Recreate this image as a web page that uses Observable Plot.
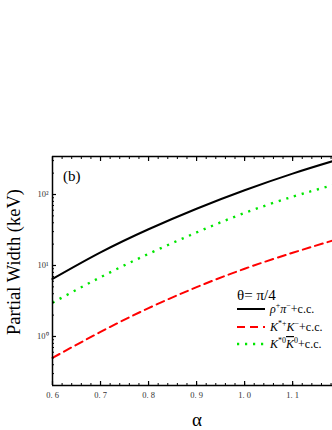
<!DOCTYPE html>
<html><head><meta charset="utf-8">
<script src="https://cdn.jsdelivr.net/npm/d3@7"></script>
<script src="https://cdn.jsdelivr.net/npm/@observablehq/plot@0.6"></script>
<style>
html,body{margin:0;padding:0;background:#fff;}
#chart svg{display:block;font-family:"Liberation Serif","DejaVu Serif",serif;}
</style></head>
<body><div id="chart"></div>
<script>
const alpha = [0.6, 0.7, 0.8, 0.9, 1.0, 1.1, 1.183];
const rhoPi = [6.46, 15.3, 32.4, 63.1, 114.8, 197, 294];
const kStarK = [0.50, 1.16, 2.51, 4.95, 9.0, 15.1, 22.4];
const kStar0K0 = [2.99, 6.84, 14.6, 29.2, 55, 93, 135];
const xMajor = [0.6, 0.7, 0.8, 0.9, 1.0, 1.1];
const yMajor = [1, 10, 100];
const yLabels = ["10⁰", "10¹", "10²"];

const xDom = [0.6, 1.183];
const yDom = [0.204, 343];
const xMinor = d3.range(30, 60).map(i => i / 50).filter(v => v <= xDom[1]);
const yMinor = [];
for (const d of [0.1, 1, 10, 100]) for (let k = 2; k <= 9; k++) { const v = d * k; if (v >= yDom[0] && v <= yDom[1]) yMinor.push(v); }

const toRows = (ys, s) => alpha.map((a, i) => ({a, v: ys[i], s}));
const curve = "natural";

const chart = Plot.plot({
  width: 332, height: 430,
  marginTop: 156, marginBottom: 45, marginLeft: 52, marginRight: 0,
  style: {fontFamily: "Liberation Serif, serif", background: "#fff", overflow: "visible"},
  x: {domain: xDom, label: null},
  y: {type: "log", domain: yDom, label: null},
  marks: [
    Plot.line(toRows(kStar0K0, "g"), {x: "a", y: "v", stroke: "#00e600", strokeWidth: 2.4, strokeDasharray: "2.2,5.8", strokeLinecap: "butt", curve}),
    Plot.line(toRows(kStarK, "r"), {x: "a", y: "v", stroke: "#ff0000", strokeWidth: 2, strokeDasharray: "8,5", curve}),
    Plot.line(toRows(rhoPi, "b"), {x: "a", y: "v", stroke: "#000", strokeWidth: 2, curve}),
    Plot.axisX({anchor: "bottom", ticks: xMinor, tickSize: -2, tickFormat: () => "", strokeWidth: 1}),
    Plot.axisX({anchor: "top", ticks: xMinor, tickSize: -2, tickFormat: () => "", strokeWidth: 1}),
    Plot.axisX({anchor: "bottom", ticks: xMajor, tickSize: -4, tickPadding: 10, tickFormat: d => d3.format(".1f")(d).replace(".", ". "), fontSize: 8.5, fill: "#333", strokeWidth: 1.2}),
    Plot.axisX({anchor: "top", ticks: xMajor, tickSize: -4, tickFormat: () => "", strokeWidth: 1.2}),
    Plot.axisY({anchor: "left", ticks: yMinor, tickSize: -2, tickFormat: () => "", strokeWidth: 1}),
    Plot.axisY({anchor: "left", ticks: yMajor, tickSize: -4, tickPadding: 8, tickFormat: d => yLabels[yMajor.indexOf(d)], fontSize: 8.5, fill: "#333", strokeWidth: 1.2}),
    Plot.ruleX([xDom[0]], {strokeWidth: 1.5}),
    Plot.ruleY([yDom[0]], {strokeWidth: 1.5}),
    Plot.ruleY([yDom[1]], {strokeWidth: 1.5})
  ]
});
document.getElementById("chart").appendChild(chart);

const svg = d3.select(chart);
const serif = "Liberation Serif, serif";
svg.append("text").attr("x", 63).attr("y", 181).attr("text-anchor", "start").attr("font-size", 15).attr("font-family", serif).attr("fill", "#000").text("(b)");
svg.append("text").attr("transform", "translate(20,262) rotate(-90)").attr("text-anchor", "middle")
  .attr("font-size", 18.5).attr("font-family", serif).attr("fill", "#000").text("Partial Width (keV)");
svg.append("text").attr("x", 197).attr("y", 426).attr("text-anchor", "middle").attr("font-size", 19).attr("font-family", serif).attr("fill", "#000").text("α");

const lg = svg.append("g").attr("font-family", serif).attr("text-anchor", "start").attr("fill", "#000");
lg.append("text").attr("x", 237).attr("y", 300).attr("font-size", 15).text("θ= π/4");
const entries = [
  {y: 309, stroke: "#000", dash: null, w: 2, parts: [["ρ", "i"], ["+", "sup"], ["π", "i"], ["−", "sup"], ["+c.c.", ""]]},
  {y: 327, stroke: "#ff0000", dash: "8,5", w: 2, parts: [["K", "i"], ["*+", "sup"], ["K", "i"], ["−", "sup"], ["+c.c.", ""]]},
  {y: 344, stroke: "#00e600", dash: "2.2,5.8", w: 2.4, parts: [["K", "i"], ["*0", "sup"], ["K", "io"], ["0", "sup"], ["+c.c.", ""]]}
];
for (const e of entries) {
  lg.append("line").attr("x1", 237).attr("x2", 265).attr("y1", e.y).attr("y2", e.y)
    .attr("stroke", e.stroke).attr("stroke-width", e.w).attr("stroke-dasharray", e.dash);
  const t = lg.append("text").attr("x", 270).attr("y", e.y + 4).attr("font-size", 12);
  let up = false;
  for (const [s, k] of e.parts) {
    const ts = t.append("tspan").text(s);
    if (k.includes("i")) ts.attr("font-style", "italic");
    if (k.includes("o")) ts.attr("text-decoration", "overline");
    if (k === "sup") { ts.attr("font-size", 8).attr("dy", up ? 0 : -5); up = true; }
    else { ts.attr("dy", up ? 5 : 0); up = false; }
  }
}
</script></body></html>
